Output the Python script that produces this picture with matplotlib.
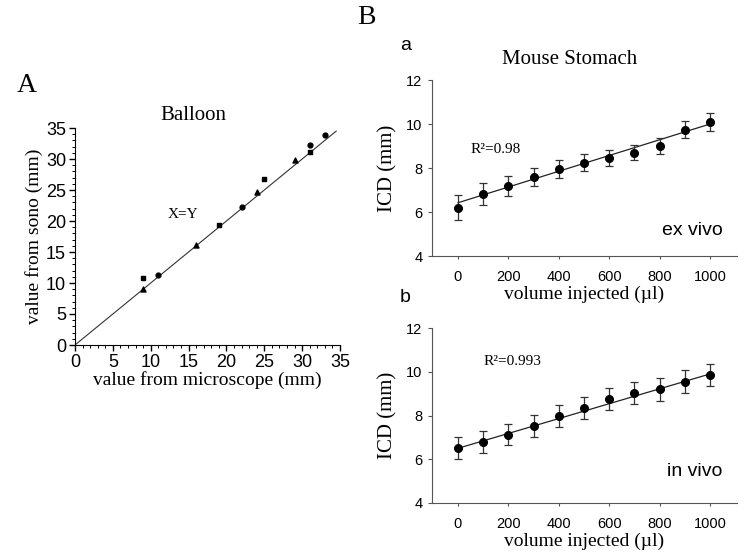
import numpy as np
import matplotlib.pyplot as plt
from matplotlib.ticker import MultipleLocator

# Panel A: balloon, three marker groups
sq_x = [9, 19, 25, 31]
sq_y = [10.8, 19.4, 26.7, 31.2]
ci_x = [11, 22, 31, 33]
ci_y = [11.3, 22.3, 32.2, 33.8]
tr_x = [9, 16, 24, 29]
tr_y = [9.0, 16.2, 24.7, 29.9]
xy_line = [0, 34.5]

# Panel B: volume vs ICD
volume = [0, 100, 200, 300, 400, 500, 600, 700, 800, 900, 1000]
icd_ex = [6.2, 6.8, 7.2, 7.6, 7.95, 8.25, 8.45, 8.7, 9.0, 9.75, 10.1]
err_ex = [0.56, 0.5, 0.45, 0.42, 0.4, 0.38, 0.36, 0.33, 0.35, 0.4, 0.4]
fit_ex = [6.42, 10.0]
icd_in = [6.5, 6.78, 7.13, 7.52, 7.96, 8.35, 8.74, 9.03, 9.2, 9.55, 9.87]
err_in = [0.5, 0.5, 0.5, 0.5, 0.5, 0.5, 0.5, 0.5, 0.53, 0.52, 0.5]
fit_in = [6.5, 9.9]

serif = "Liberation Serif"
sans = "Liberation Sans"

fig = plt.figure(figsize=(7.5, 5.59), dpi=100)
W, H = 750, 559


def px_axes(l, t, r, b):
    return fig.add_axes([l / W, 1 - b / H, (r - l) / W, (b - t) / H])


# -------------------------------
# A. Balloon
# -------------------------------
ax = px_axes(75, 128, 340, 345)
ax.plot(xy_line, xy_line, color="#333333", lw=0.8)
ax.scatter(sq_x, sq_y, marker="s", s=10, color="black", zorder=3)
ax.scatter(ci_x, ci_y, marker="o", s=12, color="black", zorder=3)
ax.scatter(tr_x, tr_y, marker="^", s=13, color="black", zorder=3)
ax.set_xlim(0, 35)
ax.set_ylim(0, 35)
ax.xaxis.set_major_locator(MultipleLocator(5))
ax.yaxis.set_major_locator(MultipleLocator(5))
ax.xaxis.set_minor_locator(MultipleLocator(1))
ax.yaxis.set_minor_locator(MultipleLocator(1))
ax.tick_params(which="major", length=4.5, width=1, direction="out", labelsize=13, pad=2)
ax.tick_params(which="minor", length=2.5, width=0.7, direction="out")
for lab in ax.get_xticklabels() + ax.get_yticklabels():
    lab.set_fontfamily(sans)
ax.spines["top"].set_visible(False)
ax.spines["right"].set_visible(False)
ax.set_xlabel("value from microscope (mm)", fontfamily=serif, fontsize=14, labelpad=0)
ax.set_ylabel("value from sono (mm)", fontfamily=serif, fontsize=14, labelpad=2)
fig.text(193 / W, 1 - 115 / H, "Balloon", fontfamily=serif, fontsize=15, ha="center", va="center")
ax.text(14.2, 21, "X=Y", fontfamily=serif, fontsize=11, ha="center", va="center")
fig.text(17 / W, 1 - 85 / H, "A", fontfamily=serif, fontsize=20, ha="left", va="center")

# -------------------------------
# B. Mouse stomach
# -------------------------------
panels = [
    (80, 256, icd_ex, err_ex, fit_ex, "R\u00b2=0.98", (50, 8.85), "ex vivo", 5.15),
    (328, 503, icd_in, err_in, fit_in, "R\u00b2=0.993", (103, 10.48), "in vivo", 5.45),
]
for i, (top, bot, y, e, fit, r2, r2pos, cond, cy) in enumerate(panels):
    bx = px_axes(432, top, 737, bot)
    bx.errorbar(volume, y, yerr=e, fmt="o", color="black", ms=5.5,
                ecolor="#333333", elinewidth=0.9, capsize=3, capthick=0.9, zorder=3)
    bx.plot([volume[0], volume[-1]], fit, color="#222222", lw=0.9)
    bx.set_xlim(-103, 1107)
    bx.set_ylim(4, 12)
    bx.set_xticks([0, 200, 400, 600, 800, 1000])
    bx.set_yticks([4, 6, 8, 10, 12])
    bx.tick_params(axis="y", length=3, width=0.8, color="#555555", labelsize=10.5, pad=4)
    bx.tick_params(axis="x", length=2, width=0.8, color="#555555", labelsize=10.5, pad=8)
    for lab in bx.get_xticklabels() + bx.get_yticklabels():
        lab.set_fontfamily(sans)
    for s in ["left", "bottom"]:
        bx.spines[s].set_color("#555555")
    bx.spines["top"].set_visible(False)
    bx.spines["right"].set_visible(False)
    bx.set_xlabel("volume injected (\u00b5l)", fontfamily=serif, fontsize=14, labelpad=1)
    bx.set_ylabel("ICD (mm)", fontfamily=serif, fontsize=15, labelpad=6)
    bx.text(r2pos[0], r2pos[1], r2, fontfamily=serif, fontsize=11, ha="left", va="center")
    bx.text(1050, cy, cond, fontfamily=sans, fontsize=14, ha="right", va="center")
    if i == 0:
        fig.text(570 / W, 1 - 60 / H, "Mouse Stomach", fontfamily=serif, fontsize=15,
                 ha="center", va="center")
        fig.text(400 / W, 1 - 45 / H, "a", fontfamily=sans, fontsize=14, ha="left", va="center")
    else:
        fig.text(400 / W, 1 - 297 / H, "b", fontfamily=sans, fontsize=14, ha="left", va="center")

fig.text(357 / W, 1 - 17 / H, "B", fontfamily=serif, fontsize=20, ha="left", va="center")

fig.savefig("out.png", dpi=100)
